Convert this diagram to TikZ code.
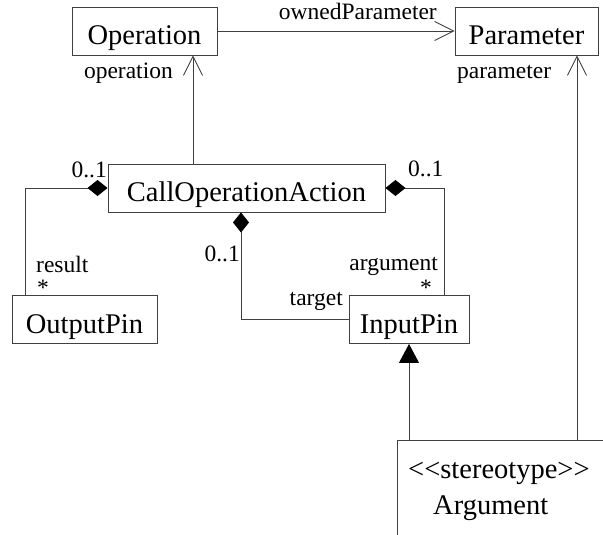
\documentclass[tikz,border=0pt]{standalone}
\usepackage{fontspec}
\setmainfont{Liberation Serif}
\usetikzlibrary{arrows.meta}
\newcommand\bigfnt{\fontsize{28.5}{32}\selectfont}
\newcommand\smfnt{\fontsize{23.5}{26}\selectfont}
\begin{document}
\begin{tikzpicture}[x=1pt,y=-1pt,
  line/.style={draw=black!75, line width=0.9pt},
  cls/.style={draw=black!75, line width=0.9pt, rectangle, font=\bigfnt,
    text height=35pt, text depth=8pt, inner ysep=2.5pt, inner xsep=0pt, minimum height=48pt},
  lbl/.style={font=\smfnt, inner sep=0pt},
  nav/.style={line, -{Straight Barb[length=19pt,width=19pt]}},
  comp/.style={line, -{Diamond[length=20pt,width=16pt,color=black]}},
  gen/.style={line, -{Triangle[length=19pt,width=20pt,color=black]}}]
\useasboundingbox (0,0) rectangle (603,535);
\clip (0,0) rectangle (603,535);

% classes
\node[cls, minimum width=145pt] (op)   at (144.5,31)   {Operation};
\node[cls, minimum width=143pt] (par)  at (526.5,31)   {Parameter};
\node[cls, minimum width=277pt] (coa)  at (246.5,188)  {CallOperationAction};
\node[cls, minimum width=145pt] (outp) at (84.5,319.5) {OutputPin};
\node[cls, minimum width=120pt] (inp)  at (409,319.5)  {InputPin};
\node[draw=black!75, line width=0.9pt, minimum width=303pt, minimum height=210pt, inner sep=0pt] (arg) at (548.5,545) {};
\node[anchor=base west, font=\bigfnt, inner sep=0pt] (st) at (408,478) {<\kern0pt<stereotype>\kern0pt>};
\node[anchor=base west, font=\bigfnt, inner sep=0pt] (an) at (433,514) {Argument};

% labels
\node[lbl, anchor=base east] (lo)  at (437,20)  {ownedParameter};
\node[lbl, anchor=base east] (lop) at (173,78)  {operation};
\node[lbl, anchor=base west] (lpa) at (457,78)  {parameter};
\node[lbl, anchor=base east] (m1)  at (107,177) {0..1};
\node[lbl, anchor=base west] (m2)  at (408,176) {0..1};
\node[lbl, anchor=base west] (lr)  at (36,272)  {result};
\node[lbl, anchor=base west] (s1)  at (37,295)  {*};
\node[lbl, anchor=base east] (m3)  at (240,261) {0..1};
\node[lbl, anchor=base east] (la)  at (438,270) {argument};
\node[lbl, anchor=base east] (s2)  at (432,295) {*};
\node[lbl, anchor=base east] (lt)  at (343,305) {target};

% connectors
\draw[nav] (op.east) -- (par.west);
\draw[nav] ([xshift=48.5pt]op.south |- coa.north) -- ([xshift=48.5pt]op.south);
\draw[nav] ([xshift=50.5pt]par.south |- arg.north) -- ([xshift=50.5pt]par.south);
\draw[comp] ([xshift=-59.5pt]outp.north) |- (coa.west);
\draw[comp] ([xshift=35pt]inp.north) |- (coa.east);
\draw[comp] (inp.west) -| ([xshift=-5.5pt]coa.south);
\draw[gen] (arg.north -| inp.south) -- (inp.south);
\end{tikzpicture}
\end{document}
